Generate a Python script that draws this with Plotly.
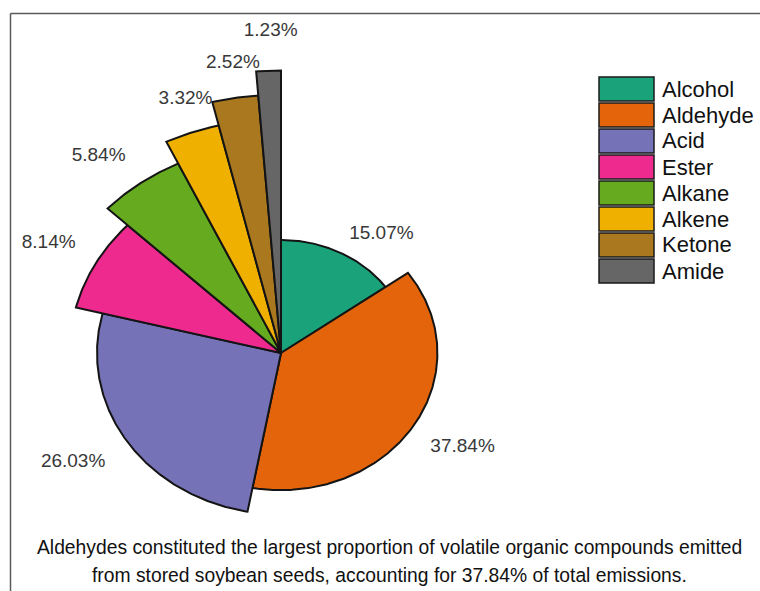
import numpy as np
import plotly.graph_objects as go

# Volatile organic compound classes and their share of total emissions (%)
categories = ["Alcohol", "Aldehyde", "Acid", "Ester", "Alkane", "Alkene", "Ketone", "Amide"]
percentages = [15.07, 37.84, 26.03, 8.14, 5.84, 3.32, 2.52, 1.23]
colors = ["#1AA37A", "#E3640A", "#7672B8", "#EE2A8E", "#65AA1F", "#F0B000", "#AA781E", "#666666"]

caption_lines = [
    "Aldehydes constituted the largest proportion of volatile organic compounds emitted",
    "from stored soybean seeds, accounting for 37.84% of total emissions.",
]

W, H = 760, 591
CX, CY = 281, 353          # pie centre in pixels
XS = 1.14                  # horizontal stretch of the pie
R0, DR = 113, 24.2         # radius of first wedge and step per wedge
# label placement: angular nudge (deg) and distance beyond each wedge rim
LABEL_NUDGE = [9.4, -1.7, 1.8, -0.5, -3.1, 1.2, 0.7, 0.6]
LABEL_GAP = [35, 48, 51, 46, 44, 33, 35, 39]
FONT = "Liberation Sans, Arial, sans-serif"


def px(x):
    return x / W


def py(y):
    return 1 - y / H


fig = go.Figure()

total = sum(percentages)
start = 0.0
lab_x, lab_y, lab_t = [], [], []
for i, (name, pct, col) in enumerate(zip(categories, percentages, colors)):
    span = 360.0 * pct / total
    n = max(int(span * 2), 2) + 1
    th = np.radians(np.linspace(start, start + span, n))
    r = R0 + DR * i
    xs = np.concatenate([[0], r * np.sin(th), [0]])
    ys = np.concatenate([[0], r * np.cos(th), [0]])
    fig.add_trace(go.Scatter(
        x=xs, y=ys, mode="lines", fill="toself", fillcolor=col,
        line=dict(color="#141414", width=2), name=name,
        showlegend=False, hoverinfo="name",
    ))
    mid = np.radians(start + span / 2 + LABEL_NUDGE[i])
    lr = r + LABEL_GAP[i]
    lab_x.append(lr * np.sin(mid))
    lab_y.append(lr * np.cos(mid))
    lab_t.append(f"{pct:.2f}%")
    start += span

fig.add_trace(go.Scatter(
    x=lab_x, y=lab_y, mode="text", text=lab_t, textposition="middle center",
    textfont=dict(family=FONT, size=19, color="#383838"),
    showlegend=False, hoverinfo="skip",
))

shapes = []
annotations = []

# Frame lines (top and left)
shapes.append(dict(type="line", xref="paper", yref="paper",
                   x0=px(10.5), x1=1.0, y0=py(13.5), y1=py(13.5),
                   line=dict(color="#5a5a5a", width=1.5)))
shapes.append(dict(type="line", xref="paper", yref="paper",
                   x0=px(10.5), x1=px(10.5), y0=py(13.5), y1=0.0,
                   line=dict(color="#5a5a5a", width=1.5)))

# Legend swatches and labels
for i, (name, col) in enumerate(zip(categories, colors)):
    top = 77 + 26 * i
    shapes.append(dict(type="rect", xref="paper", yref="paper",
                       x0=px(599), x1=px(654), y0=py(top + 24), y1=py(top),
                       fillcolor=col, line=dict(color="#1a1a1a", width=1.5)))
    annotations.append(dict(xref="paper", yref="paper", x=px(660), y=py(top + 12),
                            text=name, showarrow=False, xanchor="left", yanchor="middle",
                            font=dict(family=FONT, size=22, color="#111111")))

# Caption
for j, line in enumerate(caption_lines):
    annotations.append(dict(xref="paper", yref="paper", x=px(389), y=py(547 + 28 * j),
                            text=line, showarrow=False, xanchor="center", yanchor="middle",
                            font=dict(family=FONT, size=19.3, color="#111111")))

fig.update_layout(
    width=W, height=H,
    margin=dict(l=0, r=0, t=0, b=0),
    paper_bgcolor="white", plot_bgcolor="white",
    xaxis=dict(range=[-CX / XS, (W - CX) / XS], visible=False, fixedrange=True),
    yaxis=dict(range=[-(H - CY), CY], visible=False, fixedrange=True),
    shapes=shapes, annotations=annotations,
    showlegend=False,
)

fig.write_html("out.html")
